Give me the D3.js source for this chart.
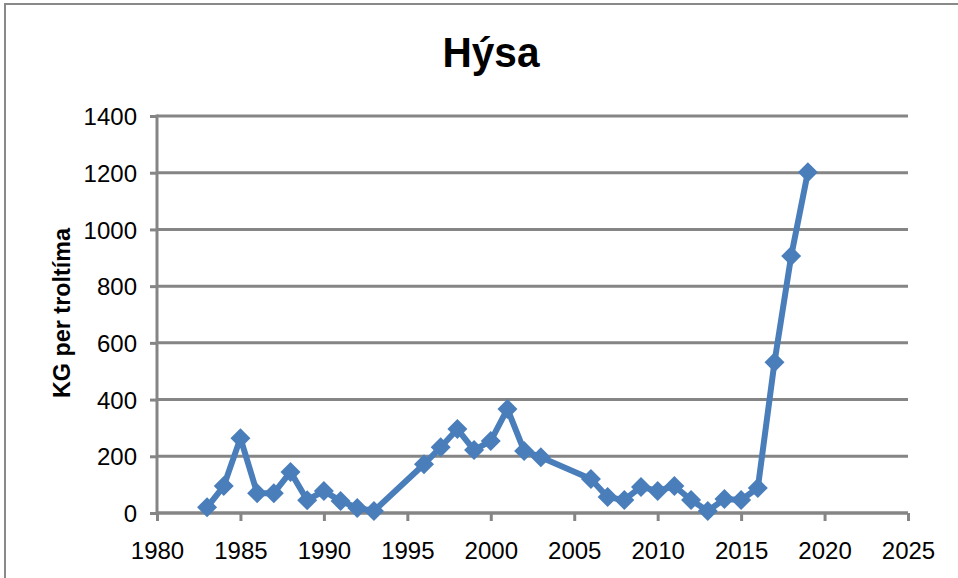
<!DOCTYPE html>
<html>
<head>
<meta charset="utf-8">
<script src="https://cdn.jsdelivr.net/npm/d3@7/dist/d3.min.js"></script>
<style>
  html, body { margin: 0; padding: 0; background: #fff; }
  svg { display: block; }
</style>
</head>
<body>
<svg id="chart" width="958" height="578"></svg>
<script>
const title = "Hýsa";
const yLabel = "KG per troltíma";
const years = [1983,1984,1985,1986,1987,1988,1989,1990,1991,1992,1993,1996,1997,1998,1999,2000,2001,2002,2003,2006,2007,2008,2009,2010,2011,2012,2013,2014,2015,2016,2017,2018,2019];
const values = [20,95,264,70,70,145,45,78,42,18,7,172,232,296,222,254,367,219,197,120,56,46,92,78,95,46,7,49,46,88,532,906,1202];
const xTicks = [1980,1985,1990,1995,2000,2005,2010,2015,2020,2025];
const yTicks = [0,200,400,600,800,1000,1200,1400];

(function () {
const svg = d3.select("#chart");
const W = 958, H = 578;
const pL = 157, pR = 908, pT = 116, pB = 513;
const grid = "#858585";
const blue = "#4a7ebb";

svg.append("rect").attr("x", 5).attr("y", 4).attr("width", W + 10).attr("height", H + 10)
  .attr("fill", "#fff").attr("stroke", "#898989").attr("stroke-width", 2);

const x = d3.scaleLinear().domain([1980, 2025]).range([pL, pR]);
const y = d3.scaleLinear().domain([0, 1400]).range([pB, pT]);

// gridlines
svg.append("g").selectAll("line").data(yTicks).join("line")
  .attr("x1", pL).attr("x2", pR)
  .attr("y1", d => y(d)).attr("y2", d => y(d))
  .attr("stroke", grid).attr("stroke-width", 3);

// y axis
const yAxis = svg.append("g").attr("transform", `translate(${pL},0)`)
  .call(d3.axisLeft(y).tickValues(yTicks).tickSize(7).tickPadding(13).tickFormat(d3.format("d")));
yAxis.select(".domain").attr("stroke", grid).attr("stroke-width", 3).attr("d", `M0,${pT - 1.5}V${pB}`);
yAxis.selectAll(".tick line").attr("stroke", grid).attr("stroke-width", 3);
yAxis.selectAll(".tick text").attr("font-family", "Liberation Sans, Arial, sans-serif")
  .attr("font-size", 24).attr("fill", "#000").attr("dy", "0.36em");

// x axis
const xAxis = svg.append("g").attr("transform", `translate(0,${pB})`)
  .call(d3.axisBottom(x).tickValues(xTicks).tickSize(8).tickFormat(d3.format("d")));
xAxis.select(".domain").attr("stroke", grid).attr("stroke-width", 3).attr("d", `M${pL},0H${pR}`);
xAxis.selectAll(".tick line").attr("stroke", grid).attr("stroke-width", 3);
xAxis.selectAll(".tick text").attr("font-family", "Liberation Sans, Arial, sans-serif")
  .attr("font-size", 24).attr("fill", "#000").attr("y", 46).attr("dy", null);

const data = years.map((yr, i) => ({ yr, v: values[i] }));

svg.append("path").datum(data)
  .attr("d", d3.line().x(d => x(d.yr)).y(d => y(d.v)))
  .attr("fill", "none").attr("stroke", blue).attr("stroke-width", 6)
  .attr("stroke-linejoin", "round");

svg.append("g").selectAll("path").data(data).join("path")
  .attr("transform", d => `translate(${x(d.yr)},${y(d.v)})`)
  .attr("d", "M0,-10L10,0L0,10L-10,0Z")
  .attr("fill", blue);

// title
svg.append("text").attr("x", 491).attr("y", 67).attr("text-anchor", "middle")
  .attr("font-family", "Liberation Sans, Arial, sans-serif").attr("font-weight", "bold")
  .attr("font-size", 42).attr("textLength", 97).attr("lengthAdjust", "spacingAndGlyphs")
  .attr("fill", "#000").text(title);

// y label
svg.append("text").attr("transform", "translate(70,313) rotate(-90)").attr("text-anchor", "middle")
  .attr("font-family", "Liberation Sans, Arial, sans-serif").attr("font-weight", "bold")
  .attr("font-size", 24).attr("textLength", 170).attr("lengthAdjust", "spacingAndGlyphs")
  .attr("fill", "#000").text(yLabel);
})();
</script>
</body>
</html>
